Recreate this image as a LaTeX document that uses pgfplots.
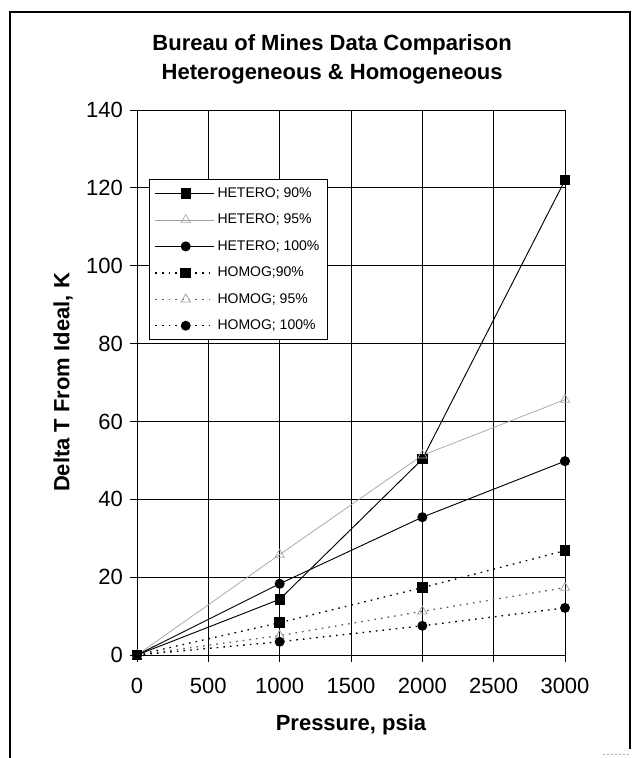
\documentclass[border=0pt]{standalone}
\usepackage{pgfplots}
\pgfplotsset{compat=1.18}
\usepackage{fontspec}
\setmainfont{Liberation Sans}
\begin{document}
\begin{tikzpicture}
\useasboundingbox (0,0) rectangle (479.25pt,-568.5pt);
\draw[line width=0.8pt] (7.5pt,-568.5pt) -- (7.5pt,-9pt) -- (472.5pt,-9pt) -- (472.5pt,-562pt);
\draw[gray!60, line width=0.8pt, dash pattern=on 2pt off 1pt] (452pt,-566pt) -- (472.5pt,-566pt);
\begin{axis}[
  at={(102.75pt,-491.25pt)}, anchor=south west,
  scale only axis, width=321pt, height=408.75pt,
  xmin=0, xmax=3000, ymin=0, ymax=140,
  xtick={0,500,...,3000}, ytick={0,20,...,140},
  grid=major, major grid style={black, line width=0.6pt},
  axis line style={black, line width=0.7pt},
  tick align=outside, major tick length=5pt,
  tick style={black, line width=0.6pt},
  xtick pos=bottom, ytick pos=left,
  /pgf/number format/assume math mode=true,
  /pgf/number format/1000 sep={},
  ticklabel style={font=\fontsize{16.5}{19}\selectfont},
  xticklabel style={yshift=-9pt},
  yticklabel style={xshift=-2pt},
  xlabel={Pressure, psia},
  ylabel={Delta T From Ideal, K},
  label style={font=\bfseries\fontsize{16.5}{19}\selectfont},
  xlabel style={at={(axis description cs:0.5,-0.128)}, anchor=center},
  ylabel style={at={(axis description cs:-0.1729,0.5)}, anchor=center},
  title={Bureau of Mines Data Comparison\\Heterogeneous \& Homogeneous},
  title style={at={(axis description cs:0.456,1.0963)}, anchor=center, align=center, yshift=-7.5pt,
    font=\bfseries\fontsize{16.5}{21.5}\selectfont},
  legend style={at={(axis description cs:0.028,0.873)}, anchor=north west,
    font=\fontsize{10.5}{12.5}\selectfont, draw=black, line width=0.6pt,
    row sep=7pt, inner sep=4pt, cells={anchor=west}},
  legend image code/.code={\draw[mark repeat=2,mark phase=2,#1] plot coordinates {(0cm,0cm) (0.8cm,0cm) (1.55cm,0cm)};},
  legend cell align=left,
]
% HETERO 90%
\addplot[black, line width=0.7pt, mark=square*, mark size=3.5pt, mark options={solid, fill=black}]
  coordinates {(0,0) (1000,14.3) (2000,50.3) (3000,122)};
\addlegendentry{HETERO; 90\%}
% HETERO 95%
\addplot[gray!75, line width=0.5pt, mark=triangle, mark size=4pt, mark options={solid, draw=gray!70, fill=white}]
  coordinates {(0,0) (1000,25.8) (2000,51.3) (3000,65.6)};
\addlegendentry{HETERO; 95\%}
% HETERO 100%
\addplot[black, line width=0.7pt, mark=*, mark size=3.4pt, mark options={solid, fill=black}]
  coordinates {(0,0) (1000,18.3) (2000,35.4) (3000,49.8)};
\addlegendentry{HETERO; 100\%}
% HOMOG 90%
\addplot[black, line width=1pt, dash pattern=on 1.2pt off 3.8pt, mark=square*, mark size=3.5pt, mark options={solid, fill=black}]
  coordinates {(0,0) (1000,8.3) (2000,17.3) (3000,26.8)};
\addlegendentry{HOMOG;90\%}
% HOMOG 95%
\addplot[gray!75!black, line width=1pt, dash pattern=on 1.2pt off 3.8pt, mark=triangle, mark size=4pt, mark options={solid, draw=gray!70, fill=white, line width=0.6pt}]
  coordinates {(0,0) (1000,5) (2000,11.2) (3000,17.3)};
\addlegendentry{HOMOG; 95\%}
% HOMOG 100%
\addplot[black, line width=1pt, dash pattern=on 1.2pt off 3.8pt, mark=*, mark size=3.2pt, mark options={solid, fill=black}]
  coordinates {(0,0) (1000,3.4) (2000,7.5) (3000,12.1)};
\addlegendentry{HOMOG; 100\%}
\end{axis}
\end{tikzpicture}
\end{document}
